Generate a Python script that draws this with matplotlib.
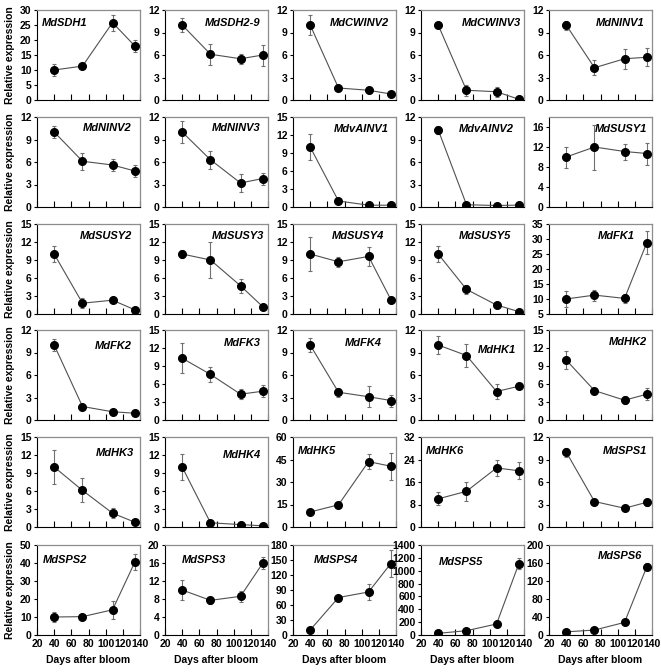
import matplotlib
matplotlib.use("Agg")
import matplotlib.pyplot as plt

# sampling days (days after bloom)
days = [40, 73, 108, 134]

genes = [
    "MdSDH1", "MdSDH2-9", "MdCWINV2", "MdCWINV3", "MdNINV1",
    "MdNINV2", "MdNINV3", "MdvAINV1", "MdvAINV2", "MdSUSY1",
    "MdSUSY2", "MdSUSY3", "MdSUSY4", "MdSUSY5", "MdFK1",
    "MdFK2", "MdFK3", "MdFK4", "MdHK1", "MdHK2",
    "MdHK3", "MdHK4", "MdHK5", "MdHK6", "MdSPS1",
    "MdSPS2", "MdSPS3", "MdSPS4", "MdSPS5", "MdSPS6",
]

means = [
    [10, 11.3, 25.8, 18], [10, 6.1, 5.5, 6.0], [10, 1.6, 1.3, 0.8], [10, 1.3, 1.1, 0.1], [10, 4.3, 5.5, 5.7],
    [10, 6.1, 5.6, 4.8], [10, 6.3, 3.2, 3.8], [10, 1.0, 0.3, 0.3], [10.3, 0.3, 0.2, 0.25], [10, 12, 11.1, 10.7],
    [10, 1.8, 2.3, 0.7], [10, 9.0, 4.7, 1.2], [10, 8.7, 9.6, 2.4], [10, 4.1, 1.5, 0.4], [10, 11.3, 10.2, 28.8],
    [10, 1.8, 1.1, 0.9], [10.3, 7.6, 4.3, 4.8], [10, 3.7, 3.1, 2.6], [10, 8.6, 3.8, 4.5], [10, 4.9, 3.3, 4.3],
    [10, 6.1, 2.3, 0.8], [10, 0.7, 0.4, 0.2], [10, 14.8, 43.6, 40.5], [10, 12.7, 21, 20], [10, 3.4, 2.5, 3.3],
    [10, 10.2, 14, 40.5], [10, 7.7, 8.6, 16], [10, 75, 86, 143], [26, 67, 171, 1110], [7, 11, 28, 152],
]

errors = [
    [2, 1, 2.7, 2], [0.9, 1.4, 0.7, 1.4], [1.3, 0.2, 0.2, 0.2], [0.3, 0.7, 0.7, 0.1], [0.6, 1.0, 1.3, 1.2],
    [0.8, 1.1, 0.8, 0.8], [1.5, 1.2, 1.2, 0.8], [2.2, 0.2, 0.1, 0.1], [0.5, 0.1, 0.1, 0.1], [2.1, 4.5, 1.6, 2.2],
    [1.4, 0.8, 0.5, 0.2], [0.7, 3.0, 1.2, 0.3], [2.9, 0.8, 1.6, 0.2], [1.4, 0.8, 0.2, 0.1], [2.7, 1.8, 1.5, 3.8],
    [0.8, 0.2, 0.2, 0.2], [2.5, 1.2, 0.8, 1.0], [0.9, 0.6, 1.4, 0.8], [1.2, 1.5, 1.0, 0.2], [1.5, 0.4, 0.7, 1.0],
    [2.8, 2.0, 0.8, 0.2], [2.2, 0.2, 0.1, 0.1], [1, 1, 5, 9], [2.3, 3.3, 2.7, 3], [0.6, 0.3, 0.2, 0.5],
    [2.7, 1, 5, 4.5], [2.2, 0.8, 1.2, 1.3], [3, 3, 16, 27], [10, 15, 20, 85], [2, 2, 3, 8],
]

# (ymin, ymax, step) per panel
yranges = [
    (0, 30, 5), (0, 12, 3), (0, 12, 3), (0, 12, 3), (0, 12, 3),
    (0, 12, 3), (0, 12, 3), (0, 15, 3), (0, 12, 3), (0, 18, 4),
    (0, 15, 3), (0, 15, 3), (0, 15, 3), (0, 15, 3), (5, 35, 5),
    (0, 12, 3), (0, 15, 3), (0, 12, 3), (0, 12, 3), (0, 15, 3),
    (0, 15, 3), (0, 15, 3), (0, 60, 15), (0, 32, 8), (0, 12, 3),
    (0, 50, 10), (0, 20, 4), (0, 180, 30), (0, 1400, 200), (0, 200, 40),
]

xticks = [20, 40, 60, 80, 100, 120, 140]

# gene label placement in axes coords: (x, y, ha)
label_pos = [
    (0.05, 0.86, "left"), (0.93, 0.86, "right"), (0.93, 0.86, "right"), (0.97, 0.86, "right"), (0.93, 0.86, "right"),
    (0.92, 0.88, "right"), (0.93, 0.88, "right"), (0.93, 0.87, "right"), (0.90, 0.87, "right"), (0.95, 0.87, "right"),
    (0.92, 0.87, "right"), (0.96, 0.87, "right"), (0.89, 0.87, "right"), (0.88, 0.87, "right"), (0.83, 0.87, "right"),
    (0.92, 0.82, "right"), (0.93, 0.86, "right"), (0.86, 0.85, "right"), (0.92, 0.78, "right"), (0.95, 0.87, "right"),
    (0.94, 0.82, "right"), (0.93, 0.80, "right"), (0.05, 0.84, "left"), (0.05, 0.84, "left"), (0.95, 0.84, "right"),
    (0.06, 0.83, "left"), (0.16, 0.83, "left"), (0.20, 0.83, "left"), (0.17, 0.81, "left"), (0.90, 0.88, "right"),
]

plt.rcParams['font.family'] = ['Liberation Sans', 'DejaVu Sans']

W, H = 661, 672
fig = plt.figure(figsize=(W / 100, H / 100), dpi=100)

col_left = [37, 165, 293, 421, 549]
row_top = [10, 117, 224, 330, 437, 545]
aw, ah = 103, 90

for i, gene in enumerate(genes):
    r, c = divmod(i, 5)
    ax = fig.add_axes([col_left[c] / W, 1 - (row_top[r] + ah) / H, aw / W, ah / H])
    ax.errorbar(days, means[i], yerr=errors[i], fmt='none', ecolor='#707070',
                elinewidth=0.8, capsize=1.5, capthick=0.8, zorder=2)
    ax.plot(days, means[i], color='#505050', lw=0.8, zorder=3)
    ax.plot(days, means[i], 'o', color='black', ms=5.5, zorder=4)

    ymin, ymax, step = yranges[i]
    ax.set_ylim(ymin, ymax)
    ax.set_yticks(list(range(ymin, ymax + 1, step)))
    ax.set_xlim(20, 140)
    ax.set_xticks(xticks)

    for s in ['left', 'bottom']:
        ax.spines[s].set_color('black')
        ax.spines[s].set_linewidth(0.8)
    for s in ['top', 'right']:
        ax.spines[s].set_color('#8c8c8c')
        ax.spines[s].set_linewidth(0.9)

    ax.tick_params(axis='x', direction='in', length=4, width=0.8, pad=3)
    ax.tick_params(axis='y', direction='out', length=2, width=0.8, pad=2)
    for lab in ax.get_xticklabels() + ax.get_yticklabels():
        lab.set_fontsize(7.5)
        lab.set_fontweight('bold')

    if r < 5:
        ax.set_xticklabels([])
    else:
        ax.set_xlabel('Days after bloom', fontsize=7.5, fontweight='bold', labelpad=4)

    lx, ly, ha = label_pos[i]
    ax.text(lx, ly, gene, transform=ax.transAxes, ha=ha, va='center',
            fontsize=8, fontweight='bold', fontstyle='italic')

# row labels
for r in range(6):
    yc = 1 - (row_top[r] + ah / 2) / H
    fig.text(10 / W, yc, 'Relative expression', rotation=90, ha='center', va='center',
             fontsize=7.5, fontweight='bold')

fig.savefig('out.png', dpi=100)
